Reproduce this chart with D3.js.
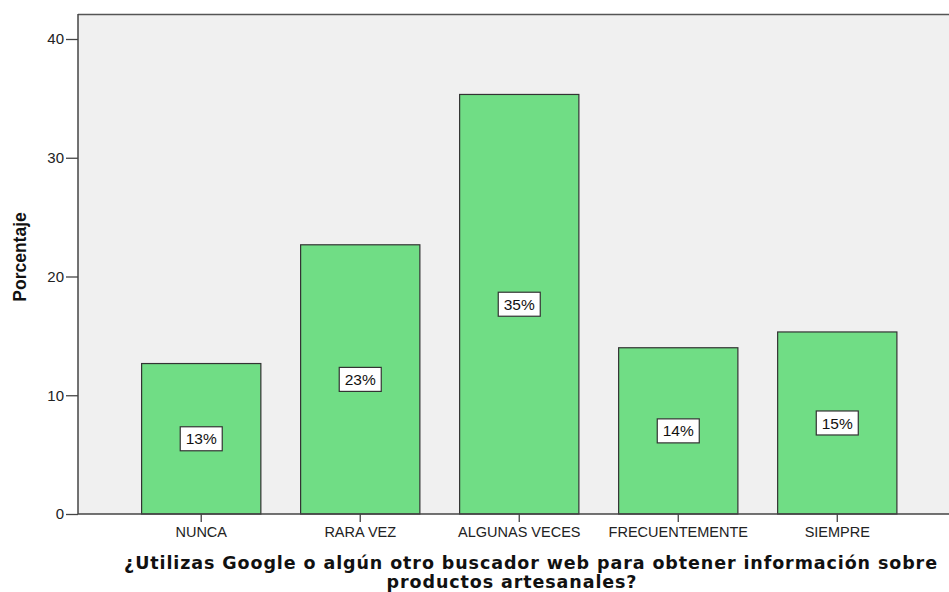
<!DOCTYPE html>
<html><head><meta charset="utf-8">
<script src="https://cdn.jsdelivr.net/npm/d3@7"></script>
<style>body{margin:0;background:#fff}svg{display:block}</style>
</head><body><svg id="c" width="949" height="592"></svg>
<script>
const categories = ["NUNCA","RARA VEZ","ALGUNAS VECES","FRECUENTEMENTE","SIEMPRE"];
const values = [12.67, 22.67, 35.33, 14.0, 15.33];
const labels = ["13%","23%","35%","14%","15%"];
const yTicks = [0,10,20,30,40];
const yTitle = "Porcentaje";
const xTitle = ["¿Utilizas Google o algún otro buscador web para obtener información sobre","productos artesanales?"];

const svg = d3.select("#c");
const L = 78, T = 14, R = 960.5, B = 514;
const F = "Arial, 'Liberation Sans', sans-serif";
const y = d3.scaleLinear().domain([0,40]).range([B, 39]);
const x = d3.scaleBand().domain(categories).range([L, R]).paddingInner(0.25).paddingOuter(0.4);

svg.append("rect").attr("x", L).attr("y", T).attr("width", 949 - L).attr("height", B - T).attr("fill", "#f0f0f0");
svg.append("line").attr("x1", L).attr("x2", 949).attr("y1", T + 0.5).attr("y2", T + 0.5).attr("stroke", "#555").attr("stroke-width", 1.5);

svg.selectAll("rect.bar").data(values).enter().append("rect")
  .attr("class","bar")
  .attr("x", (d,i) => x(categories[i]))
  .attr("width", x.bandwidth())
  .attr("y", d => y(d))
  .attr("height", d => B - y(d))
  .attr("fill", "#70dd85").attr("stroke", "#333").attr("stroke-width", 1.2);

const yAxis = svg.append("g").attr("transform", `translate(${L},0)`)
  .call(d3.axisLeft(y).tickValues(yTicks).tickSize(12).tickPadding(2));
yAxis.select(".domain").attr("stroke","#444").attr("stroke-width",1.5).attr("d", `M0,${T}V${B}`);
yAxis.selectAll(".tick line").attr("stroke","#444").attr("stroke-width",1.3);
yAxis.selectAll("text").attr("font-family",F).attr("font-size",15).attr("fill","#222");

const xAxis = svg.append("g").attr("transform", `translate(0,${B})`)
  .call(d3.axisBottom(x).tickSize(8).tickPadding(5));
xAxis.select(".domain").attr("stroke","#444").attr("stroke-width",1.5).attr("d", `M${L},0H949`);
xAxis.selectAll(".tick line").attr("stroke","#444").attr("stroke-width",1.3);
xAxis.selectAll("text").attr("font-family",F).attr("font-size",14.5).attr("fill","#222");

// value labels
const lg = svg.selectAll("g.lab").data(values).enter().append("g").attr("class","lab")
  .attr("transform", (d,i) => `translate(${x(categories[i]) + x.bandwidth()/2},${y(d/2)})`);
lg.append("rect").attr("x",-21).attr("y",-12).attr("width",42).attr("height",24)
  .attr("fill","#fff").attr("stroke","#333").attr("stroke-width",1.2);
lg.append("text").text((d,i)=>labels[i]).attr("text-anchor","middle").attr("dy","0.36em")
  .attr("font-family",F).attr("font-size",15.5).attr("fill","#111");

svg.append("text").text(yTitle).attr("transform","translate(26,257) rotate(-90)")
  .attr("text-anchor","middle").attr("font-family",F)
  .attr("font-weight","bold").attr("font-size",17.5).attr("fill","#111");

const xtPos = [[531,569],[512,588]];
svg.selectAll("text.xt").data(xTitle).enter().append("text").attr("class","xt")
  .text(d=>d).attr("x",(d,i)=>xtPos[i][0]).attr("y",(d,i)=>xtPos[i][1])
  .attr("text-anchor","middle").attr("font-family","Verdana, 'DejaVu Sans', sans-serif")
  .attr("font-weight","bold").attr("font-size",17.5).attr("letter-spacing",0.9).attr("fill","#111");
</script></body></html>
